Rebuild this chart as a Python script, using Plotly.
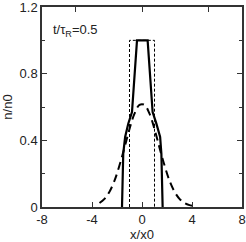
import plotly.graph_objects as go

# Data
rect_x = [-1.0, -1.0, 1.0, 1.0]
rect_n = [0.0, 1.0, 1.0, 0.0]

solid_x = [-1.6, -1.5, -1.35, -1.1, -0.8, -0.4, 0.45, 0.85, 1.15, 1.45, 1.55, 1.65]
solid_n = [0.0, 0.32, 0.42, 0.5, 0.57, 1.0, 1.0, 0.57, 0.5, 0.42, 0.32, 0.0]

dash_x = [-3.4, -3.0, -2.6, -2.2, -1.8, -1.4, -1.0, -0.6, -0.2, 0.2, 0.6, 1.0,
          1.4, 1.8, 2.2, 2.6, 3.0, 3.4, 3.8, 4.0]
dash_n = [0.024, 0.049, 0.092, 0.158, 0.25, 0.356, 0.468, 0.56, 0.613, 0.613, 0.56, 0.468,
          0.356, 0.25, 0.158, 0.092, 0.049, 0.024, 0.011, 0.007]

x_ticks = [-8, -4, 0, 4, 8]
y_ticks = [0, 0.4, 0.8, 1.2]
top_ticks = [-5.33, 0, 5.33]

fig = go.Figure()
fig.add_trace(go.Scatter(x=rect_x, y=rect_n, mode="lines",
                         line=dict(color="black", width=1, dash="3px,2px"), showlegend=False))
fig.add_trace(go.Scatter(x=dash_x, y=dash_n, mode="lines", line_shape="spline",
                         line=dict(color="black", width=2, dash="8px,5px"), showlegend=False))
fig.add_trace(go.Scatter(x=solid_x, y=solid_n, mode="lines",
                         line=dict(color="black", width=2.2), showlegend=False))
# invisible trace for top axis
fig.add_trace(go.Scatter(x=[-8, 8], y=[0, 0], xaxis="x2", mode="lines",
                         line=dict(width=0), hoverinfo="skip", showlegend=False))

font = dict(family="Liberation Sans, Arial, sans-serif", size=13, color="#222")

fig.update_layout(
    width=246, height=242,
    margin=dict(l=42, r=4, t=7, b=35, autoexpand=False),
    paper_bgcolor="white", plot_bgcolor="white",
    font=font,
    xaxis=dict(range=[-8, 8], tickvals=x_ticks, ticktext=["-8", "-4", "0", "4", "8"],
               ticks="inside", ticklen=5, tickcolor="#333", showgrid=False, zeroline=False,
               showline=True, linecolor="#333", linewidth=1.5, mirror=False, automargin=False,
               ticklabeloverflow="allow",
               title=dict(text="x/x0", standoff=0, font=font)),
    xaxis2=dict(range=[-8, 8], overlaying="x", side="top", tickvals=top_ticks,
                showticklabels=False, ticks="inside", ticklen=5, tickcolor="#333", automargin=False,
                showgrid=False, zeroline=False, showline=True, linecolor="#333", linewidth=1.5),
    yaxis=dict(range=[0, 1.2], tickvals=y_ticks, ticktext=["0", "0.4", "0.8", "1.2"],
               ticks="inside", ticklen=5, tickcolor="#333", showgrid=False, zeroline=False,
               showline=True, linecolor="#333", linewidth=1.5, mirror="ticks", automargin=False,
               ticklabeloverflow="allow",
               minor=dict(tickvals=[0.2, 0.6, 1.0], ticks="inside", ticklen=3, tickcolor="#333"),
               title=dict(text="n/n0", standoff=4, font=font)),
    annotations=[dict(x=-7.3, y=1.06, xref="x", yref="y", xanchor="left", yanchor="middle",
                      text="t/τ<sub>R</sub>=0.5", showarrow=False, font=font)],
)

fig.write_html("out.html", config={"displayModeBar": False},
               post_script="document.body.style.margin='0';document.body.style.padding='0';")
